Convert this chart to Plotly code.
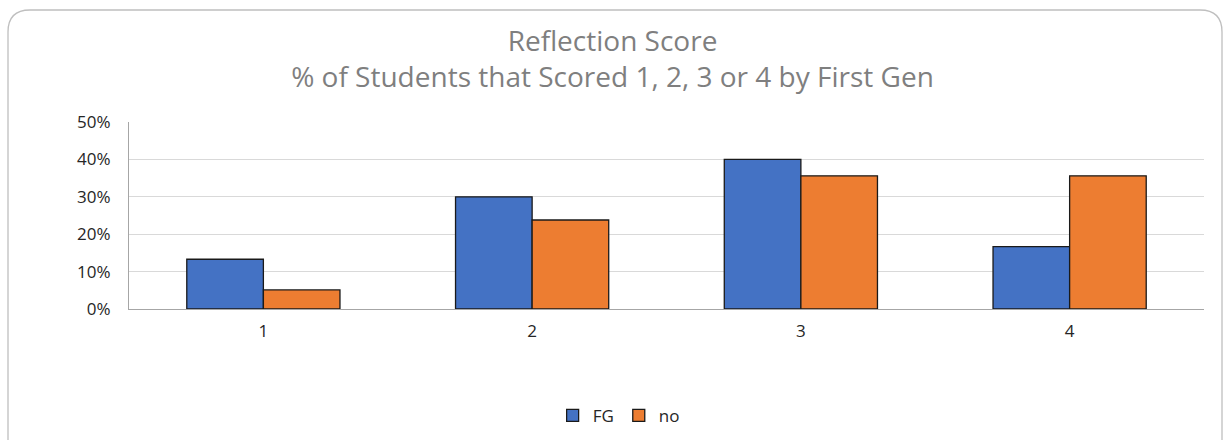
import plotly.graph_objects as go

# data
categories = ["1", "2", "3", "4"]
fg_values = [0.133, 0.30, 0.40, 0.167]
no_values = [0.051, 0.238, 0.356, 0.356]

W, H = 1225, 440
L, R, T, B = 129, 21, 122, 131
pw, ph = W - L - R, H - T - B

def px(x):
    return (x - L) / pw

def py(y):
    return (H - B - y) / ph

fig = go.Figure()
fig.add_trace(go.Bar(x=categories, y=fg_values, name="FG",
                     marker=dict(color="#4472C4", line=dict(color="#1a1a1a", width=1.3))))
fig.add_trace(go.Bar(x=categories, y=no_values, name="no",
                     marker=dict(color="#ED7D31", line=dict(color="#1a1a1a", width=1.3))))

# rounded outer border
x0, x1, yt, yb, r = 8, 1222, 10, 450, 22
path = (f"M {px(x0)},{py(yb)} L {px(x0)},{py(yt + r)} "
        f"Q {px(x0)},{py(yt)} {px(x0 + r)},{py(yt)} "
        f"L {px(x1 - r)},{py(yt)} Q {px(x1)},{py(yt)} {px(x1)},{py(yt + r)} "
        f"L {px(x1)},{py(yb)}")
fig.add_shape(type="path", path=path, xref="paper", yref="paper",
              line=dict(color="#BFBFBF", width=1.3), layer="below")

fig.update_layout(
    width=W, height=H,
    margin=dict(l=L, r=R, t=T, b=B),
    paper_bgcolor="white", plot_bgcolor="white",
    font=dict(family="Open Sans, Liberation Sans, sans-serif", color="#262626", size=17),
    title=dict(text="Reflection Score<br>% of Students that Scored 1, 2, 3 or 4 by First Gen",
               x=0.5, xref="container", xanchor="center", y=0.885, yanchor="top",
               font=dict(size=28, color="#7F7F7F")),
    barmode="group", bargap=0.43, bargroupgap=0,
    showlegend=True,
    legend=dict(orientation="h", x=0.505, xanchor="center", xref="container",
                y=0.055, yref="container", yanchor="middle",
                font=dict(size=17), itemwidth=30, traceorder="normal"),
    xaxis=dict(showline=True, linecolor="#A6A6A6", linewidth=1.3, ticks="",
               tickfont=dict(size=17), showgrid=False, ticklabelstandoff=6),
    yaxis=dict(range=[0, 0.5], dtick=0.1, tickformat=".0%", showline=True,
               linecolor="#A6A6A6", linewidth=1.3, gridcolor="#D9D9D9", gridwidth=1.3,
               tickfont=dict(size=17), ticks="", zeroline=False, ticklabelstandoff=14),
)

fig.write_html("out.html", config={"displayModeBar": False},
               post_script="document.body.style.margin='0';document.body.style.overflow='hidden';")
